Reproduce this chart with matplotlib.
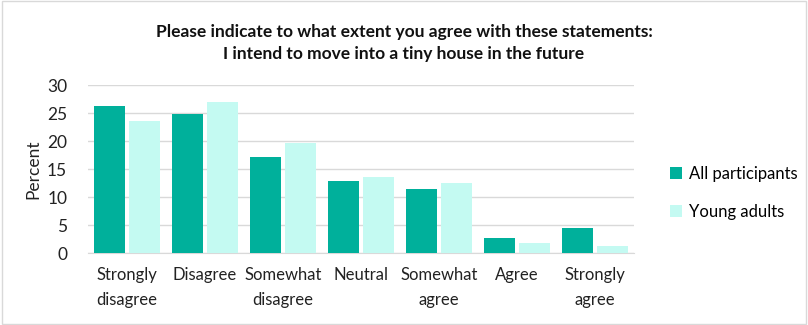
import matplotlib
matplotlib.use("Agg")
import matplotlib.pyplot as plt
import numpy as np

categories = ["Strongly\ndisagree", "Disagree", "Somewhat\ndisagree", "Neutral",
              "Somewhat\nagree", "Agree", "Strongly\nagree"]
all_participants = [26.3, 24.8, 17.1, 12.8, 11.5, 2.6, 4.4]
young_adults = [23.5, 27.0, 19.7, 13.5, 12.5, 1.8, 1.3]
series_names = ["All participants", "Young adults"]
title = "Please indicate to what extent you agree with these statements:\nI intend to move into a tiny house in the future"

plt.rcParams['font.family'] = ['Lato', 'DejaVu Sans']

fig = plt.figure(figsize=(8.08, 3.25), dpi=100)
ax = fig.add_axes([88/808, 1-253/325, (634-88)/808, (253-85)/325])

x = np.arange(len(categories))
w = 0.40
ax.bar(x - 0.225, all_participants, w, color="#00B09B", label=series_names[0], zorder=3)
ax.bar(x + 0.225, young_adults, w, color="#C4FAF2", label=series_names[1], zorder=3)

fs = 12
ax.set_xlim(-0.5, len(categories) - 0.5)
ax.set_ylim(0, 30)
ax.set_yticks(range(0, 31, 5))
ax.set_xticks(x)
ax.set_xticklabels(categories, fontsize=fs, color="#222222", linespacing=1.7)
ax.tick_params(axis='y', labelsize=fs + 0.5, colors="#222222", length=0, pad=15)
ax.tick_params(axis='x', length=0, pad=10)
ax.yaxis.grid(True, color="#D9D9D9", linewidth=1, zorder=0)
for s in ["top", "right", "left"]:
    ax.spines[s].set_visible(False)
ax.spines["bottom"].set_color("#D9D9D9")
ax.set_ylabel("Percent", fontsize=fs + 0.5, color="#222222", labelpad=4)

fig.text(404/808, 1-43/325, title, ha="center", va="center", fontsize=12.5,
         fontweight="bold", color="#111111", linespacing=1.45)

handles, labels = ax.get_legend_handles_labels()
fig.legend(handles, labels, loc="center left", bbox_to_anchor=(655/808, 1-193/325),
           frameon=False, fontsize=fs, handlelength=0.7, handleheight=0.7,
           labelspacing=1.3, handletextpad=0.45)

border = plt.Rectangle((0.002, 0.003), 0.996, 0.994, transform=fig.transFigure,
                       fill=False, edgecolor="#D9D9D9", linewidth=1)
fig.add_artist(border)

fig.savefig("out.png", dpi=100)
